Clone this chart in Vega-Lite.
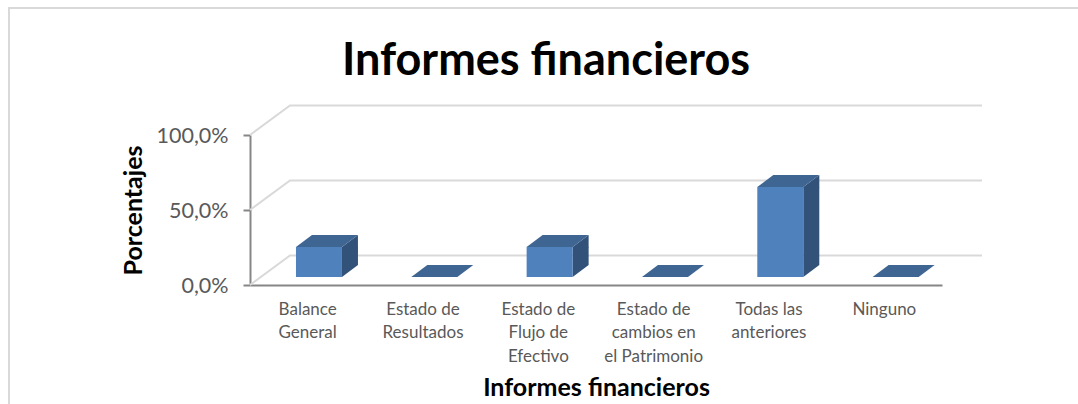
{
"$schema":"https://vega.github.io/schema/vega-lite/v6.json",
"width":1085,"height":410,"autosize":{"type":"none"},"padding":{"left":9,"top":8,"right":0,"bottom":0},
"background":"white",
"view":{"stroke":"#d9d9d9","strokeWidth":2,"fill":"white"},
"title":{"text":"Informes financieros","font":"Lato","fontSize":45,"fontWeight":"bold","color":"#000000","anchor":"start","dx":333,"dy":45,"offset":-67,"baseline":"alphabetic"},
"data":{"values":[
{"informe":"Balance General","pct":20},
{"informe":"Estado de Resultados","pct":0},
{"informe":"Estado de Flujo de Efectivo","pct":20},
{"informe":"Estado de cambios en el Patrimonio","pct":0},
{"informe":"Todas las anteriores","pct":60},
{"informe":"Ninguno","pct":0}
]},
"encoding":{
"x":{"field":"informe","type":"nominal","sort":null,
"scale":{"type":"band","domain":["Balance General","Estado de Resultados","Estado de Flujo de Efectivo","Estado de cambios en el Patrimonio","Todas las anteriores","Ninguno"],"range":[241,933],"paddingInner":0,"paddingOuter":0},
"axis":{"title":"Informes financieros","titleFont":"Lato","titleFontSize":25,"titleFontWeight":"bold","titleColor":"#000000","titlePadding":11,"offset":-133,"domainColor":"#868686","domainWidth":2,"ticks":false,"grid":false,"labelAngle":0,"labelFont":"Lato","labelFontSize":17,"labelColor":"#595959","labelPadding":16,"labelLineHeight":23.5,"labelBaseline":"top","labelOverlap":false,"labelLimit":0,"labelBound":false,"labelFlush":false,
"labelExpr":"{'Balance General':['Balance','General'],'Estado de Resultados':['Estado de','Resultados'],'Estado de Flujo de Efectivo':['Estado de','Flujo de','Efectivo'],'Estado de cambios en el Patrimonio':['Estado de','cambios en','el Patrimonio'],'Todas las anteriores':['Todas las','anteriores'],'Ninguno':['Ninguno']}[datum.label]"}},
"y":{"field":"pct","type":"quantitative",
"scale":{"domain":[0,100],"range":[277,127],"nice":false,"zero":false},
"axis":{"title":"Porcentajes","titleFont":"Lato","titleFontSize":25,"titleFontWeight":"bold","titleColor":"#000000","titlePadding":10,"offset":-241,"values":[0,50,100],"domainColor":"#868686","domainWidth":2,"tickColor":"#868686","tickWidth":2,"tickSize":7,"grid":false,"labelFont":"Lato","labelFontSize":21.5,"labelColor":"#595959","labelPadding":15,"labelOffset":1,"labelExpr":"replace(format(datum.value,'.1f'),'.',',')+'%'"}}
},
"layer":[
{"data":{"values":[{"nivel":0},{"nivel":50},{"nivel":100}]},
"mark":{"type":"point","filled":false,"opacity":1,"stroke":"#d9d9d9","strokeWidth":2,"size":10000,"shape":"M0 0L.8 -.59H14.64","clip":false},
"encoding":{"x":{"datum":"Balance General","type":"nominal","bandPosition":0},"y":{"field":"nivel","type":"quantitative"}}},
{"transform":[{"filter":"datum.pct>0"}],
"mark":{"type":"bar","color":"#32527a","width":16,"xOffset":42.3,"yOffset":-8,"y2Offset":-20},
"encoding":{"y2":{"datum":0}}},
{"transform":[{"filter":"datum.pct>0"}],
"mark":{"type":"point","filled":true,"opacity":1,"color":"#32527a","size":10000,"xOffset":11.3,"yOffset":-8,"shape":"M.46 0L.78 -.24V.01H.46Z"}},
{"transform":[{"filter":"datum.pct>0"}],
"mark":{"type":"point","filled":true,"opacity":1,"color":"#32527a","size":10000,"xOffset":11.3,"yOffset":-8,"shape":"M.46 0L.78 -.24H.46Z"},
"encoding":{"y":{"datum":0,"type":"quantitative"}}},
{"mark":{"type":"point","filled":true,"opacity":1,"color":"#3f6592","size":10000,"xOffset":11.3,"yOffset":-8,"shape":"M-.46 0H.46L.78 -.24H-.14Z"}},
{"transform":[{"filter":"datum.pct>0"}],
"mark":{"type":"bar","color":"#4f81bd","width":46,"xOffset":11.3,"yOffset":-8,"y2Offset":-8},
"encoding":{"y2":{"datum":0}}}
]
}
